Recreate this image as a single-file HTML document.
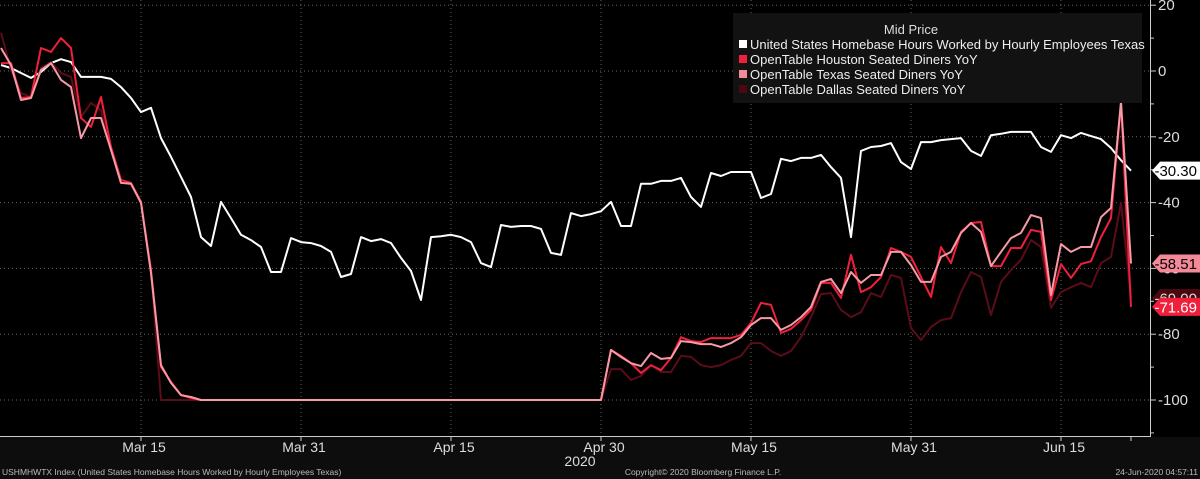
<!DOCTYPE html>
<html><head><meta charset="utf-8">
<style>
body{margin:0;background:#000;width:1200px;height:479px;overflow:hidden;font-family:"Liberation Sans",sans-serif}
svg{display:block}
</style></head>
<body>
<svg id="chart" width="1200" height="479">
<rect x="0" y="0" width="1200" height="479" fill="#000"/>
<rect x="0" y="437" width="1200" height="42" fill="#0d0d0d"/>
<g id="grid"></g>
<g id="series"></g>
<g id="axes"></g>
<g>
<rect x="733" y="13" width="409" height="90" fill="#121212"/>
<text x="911" y="34" fill="#ddd" font-size="13" text-anchor="middle">Mid Price</text>
<rect x="739" y="40" width="8" height="8" fill="#fff"/>
<text x="750" y="49" fill="#eee" font-size="13">United States Homebase Hours Worked by Hourly Employees Texas</text>
<rect x="739" y="55" width="8" height="8" fill="#f0203c"/>
<text x="750" y="64" fill="#eee" font-size="13">OpenTable Houston Seated Diners YoY</text>
<rect x="739" y="70" width="8" height="8" fill="#f48a99"/>
<text x="750" y="79" fill="#eee" font-size="13">OpenTable Texas Seated Diners YoY</text>
<rect x="739" y="85" width="8" height="8" fill="#4a0810"/>
<text x="750" y="94" fill="#eee" font-size="13">OpenTable Dallas Seated Diners YoY</text>
</g>
<text x="580" y="466" fill="#ddd" font-size="14" text-anchor="middle">2020</text>
<text x="2" y="475" fill="#bbb" font-size="8.5">USHMHWTX Index (United States Homebase Hours Worked by Hourly Employees Texas)</text>
<text x="703" y="475" fill="#bbb" font-size="8.5" text-anchor="middle">Copyright© 2020 Bloomberg Finance L.P.</text>
<text x="1198" y="475" fill="#bbb" font-size="8.5" text-anchor="end">24-Jun-2020 04:57:11</text>
<g id="labels"></g>
</svg>
<script>
const yTicks=[20,0,-20,-40,-60,-80,-100];
const xTickLabels=["Mar 15","Mar 31","Apr 15","Apr 30","May 15","May 31","Jun 15"];
const xTickDays=[14,30,45,60,75,91,106];
const homebase=[1.8,0.9,-0.6,-2.1,-0.3,2.4,3.6,2.7,-1.8,-1.8,
-1.8,-2.4,-4.9,-8.2,-12.5,-11.2,-20.4,-26.1,-32.2,-38.3,
-50.5,-53.2,-39.8,-44.7,-49.8,-51.4,-53.5,-61.1,-61.1,-50.8,
-52,-52.3,-53.2,-55,-62.6,-61.7,-50.5,-51.7,-51.1,-52.3,
-56.8,-60.8,-69.6,-50.5,-50.2,-49.8,-50.5,-52,-58.4,-59.6,
-46.8,-47.4,-47.1,-47.1,-48,-55.3,-55.9,-43.2,-44.1,-43.5,
-42.6,-39.8,-47.1,-47.1,-34.3,-34.3,-33.4,-33.4,-32.5,-38.3,
-41.3,-31,-31.9,-30.7,-30.7,-30.7,-38.6,-37.4,-26.7,-27.4,
-26.4,-26.4,-25.5,-29.2,-32.5,-50.5,-24.3,-23.1,-22.8,-21.9,
-27.7,-29.8,-21.6,-21.6,-21,-20.7,-20.4,-24.3,-25.8,-19.5,
-19.1,-18.5,-18.5,-18.5,-23.1,-24.6,-19.5,-20.4,-18.8,-19.8,
-20.7,-23.4,-27.1,-30.3];
const flat41=Array(41).fill(-100);
const houston=[2.4,2.4,-8.2,-7.9,7.0,5.8,10.0,7.0,-14.3,-17.0,-7.9,-23.1,-33.1,-34.0,-39.8,-60.5,-90.0,-94.5,-98.5,-99.4]
.concat(flat41).concat([-84.8,-86.6,-88.8,-91.8,-89.4,-90.9,-87.2,-80.9,-82.1,-82.4,-81.2,-81.2,-81.2,-80.2,-76.6,-70.5,-71.1,-79.6,-78.4,-75.7,-72.6,-64.4,-64.4,-69.0,-55.9,-67.2,-65.7,-62.6,
-53.8,-55.0,-56.5,-62.6,-68.7,-53.5,-58.4,-48.9,-46.2,-45.9,-59.3,-59.3,-53.8,-53.8,-48.3,-48.9,-69.6,-58.7,-62.9,-58.7,-57.8,-50.5,-44.7,-9.7,-71.69]);
const texas=[7.0,1.8,-8.8,-8.2,0.3,2.4,-2.7,-4.9,-20.4,-14.3,-14.3,-24.0,-34.0,-34.3,-40.1,-61.4,-89.4,-94.8,-98.5,-99.1]
.concat(flat41).concat([-84.8,-86.9,-88.8,-89.7,-85.7,-87.5,-87.2,-82.1,-82.4,-83.0,-83.0,-83.9,-82.7,-80.9,-77.2,-75.1,-75.1,-78.7,-77.2,-74.8,-71.7,-64.1,-63.2,-67.5,-61.1,-64.4,-62.0,-62.0,
-55.0,-55.0,-59.0,-64.1,-64.1,-56.5,-55.0,-49.2,-46.2,-48.9,-59.3,-55.0,-50.8,-49.2,-43.8,-44.7,-68.1,-52.6,-55.0,-53.5,-53.5,-44.4,-41.6,-9.4,-58.51]);
const dallas=[11.6,0.3,-6.7,-7.9,0.9,2.7,-0.6,-1.8,-14.0,-9.7,-11.9,-24.0,-33.1,-34.0,-40.1,-60.5]
.concat(Array(45).fill(-100)).concat([-90.6,-90.6,-93.9,-92.7,-89.4,-91.5,-91.5,-86.6,-86.9,-89.4,-90.0,-89.4,-87.8,-86.6,-82.7,-82.7,-85.1,-86.6,-85.1,-80.9,-74.8,-67.8,-67.5,-72.6,-74.8,-73.3,-67.5,-68.7,
-62.0,-62.9,-78.1,-81.8,-77.8,-75.7,-75.1,-67.2,-61.1,-62.6,-74.2,-64.1,-60.5,-57.4,-51.4,-53.5,-72.0,-67.2,-65.7,-64.4,-65.7,-58.4,-56.5,-40.1,-69.0]);

const NS="http://www.w3.org/2000/svg";
const X=d=>1+10*d;
const Y=v=>71-v*3.29;
function mk(tag,attrs,parent){const e=document.createElementNS(NS,tag);for(const k in attrs)e.setAttribute(k,attrs[k]);parent.appendChild(e);return e;}
const grid=document.getElementById('grid'),axes=document.getElementById('axes'),ser=document.getElementById('series'),lab=document.getElementById('labels');
yTicks.forEach((t,i)=>{
  const l=mk('line',{x1:0,x2:1150,y1:Y(t),y2:Y(t),stroke:'#666','stroke-width':1,'stroke-dasharray':'1,3'},grid);
  
  
  const tk=mk('line',{x1:1150,x2:1156,y1:Y(t),y2:Y(t),stroke:'#ccc'},axes);
  
  
  const tx=mk('text',{x:1158,y:Y(t)+5,fill:'#ddd','font-size':15},axes);
  tx.textContent=t;
  
  
});
for(let v=10;v>=-110;v-=20){
  const tk=mk('line',{x1:1150,x2:1154,y1:Y(v),y2:Y(v),stroke:'#ccc'},axes);
  
  
}
xTickDays.forEach((d,i)=>{
  const l=mk('line',{x1:X(d),x2:X(d),y1:0,y2:436,stroke:'#666','stroke-dasharray':'1,3'},grid);
  
  
  const tk=mk('line',{x1:X(d),x2:X(d),y1:436,y2:441,stroke:'#ccc'},axes);
  
  
  const tx=mk('text',{x:X(d)+3,y:452,fill:'#ddd','font-size':14,'text-anchor':'middle'},axes);
  tx.textContent=xTickLabels[i];
  
  
});
const ax=mk('path',{d:'M0 436.5H1150.5V0',fill:'none',stroke:'#ccc'},axes);


const tk2=mk('line',{x1:1131,x2:1131,y1:436,y2:441,stroke:'#ccc'},axes);


function line(data,color,w,name){
  const p=mk('polyline',{points:data.map((v,i)=>X(i)+','+Y(v).toFixed(1)).join(' '),fill:'none',stroke:color,'stroke-width':w,'stroke-linejoin':'round'},ser);
  
  
}
line(homebase,'#ffffff',2,'homebase-line');
line(dallas,'#5a0c18',2,'dallas-line');
line(houston,'#f0203c',2,'houston-line');
line(texas,'#f79aa6',2,'texas-line');
function tag(v,bg,fg,name){
  const y=Y(v);
  const p=mk('path',{d:`M1152 ${y} L1160 ${y-9} H1200 V${y+9} H1160 Z`,fill:bg},lab);
  
  
  const t=mk('text',{x:1197,y:y+5.5,fill:fg,'font-size':15,'text-anchor':'end'},lab);
  t.textContent=v.toFixed(2);
  
  
}
tag(dallas[dallas.length-1],'#4a0810','#ddd','dallas-last-label');
tag(homebase[homebase.length-1],'#ffffff','#000','homebase-last-label');
tag(texas[texas.length-1],'#f48a99','#000','texas-last-label');
tag(houston[houston.length-1],'#f0203c','#fff','houston-last-label');
</script>
</body></html>
